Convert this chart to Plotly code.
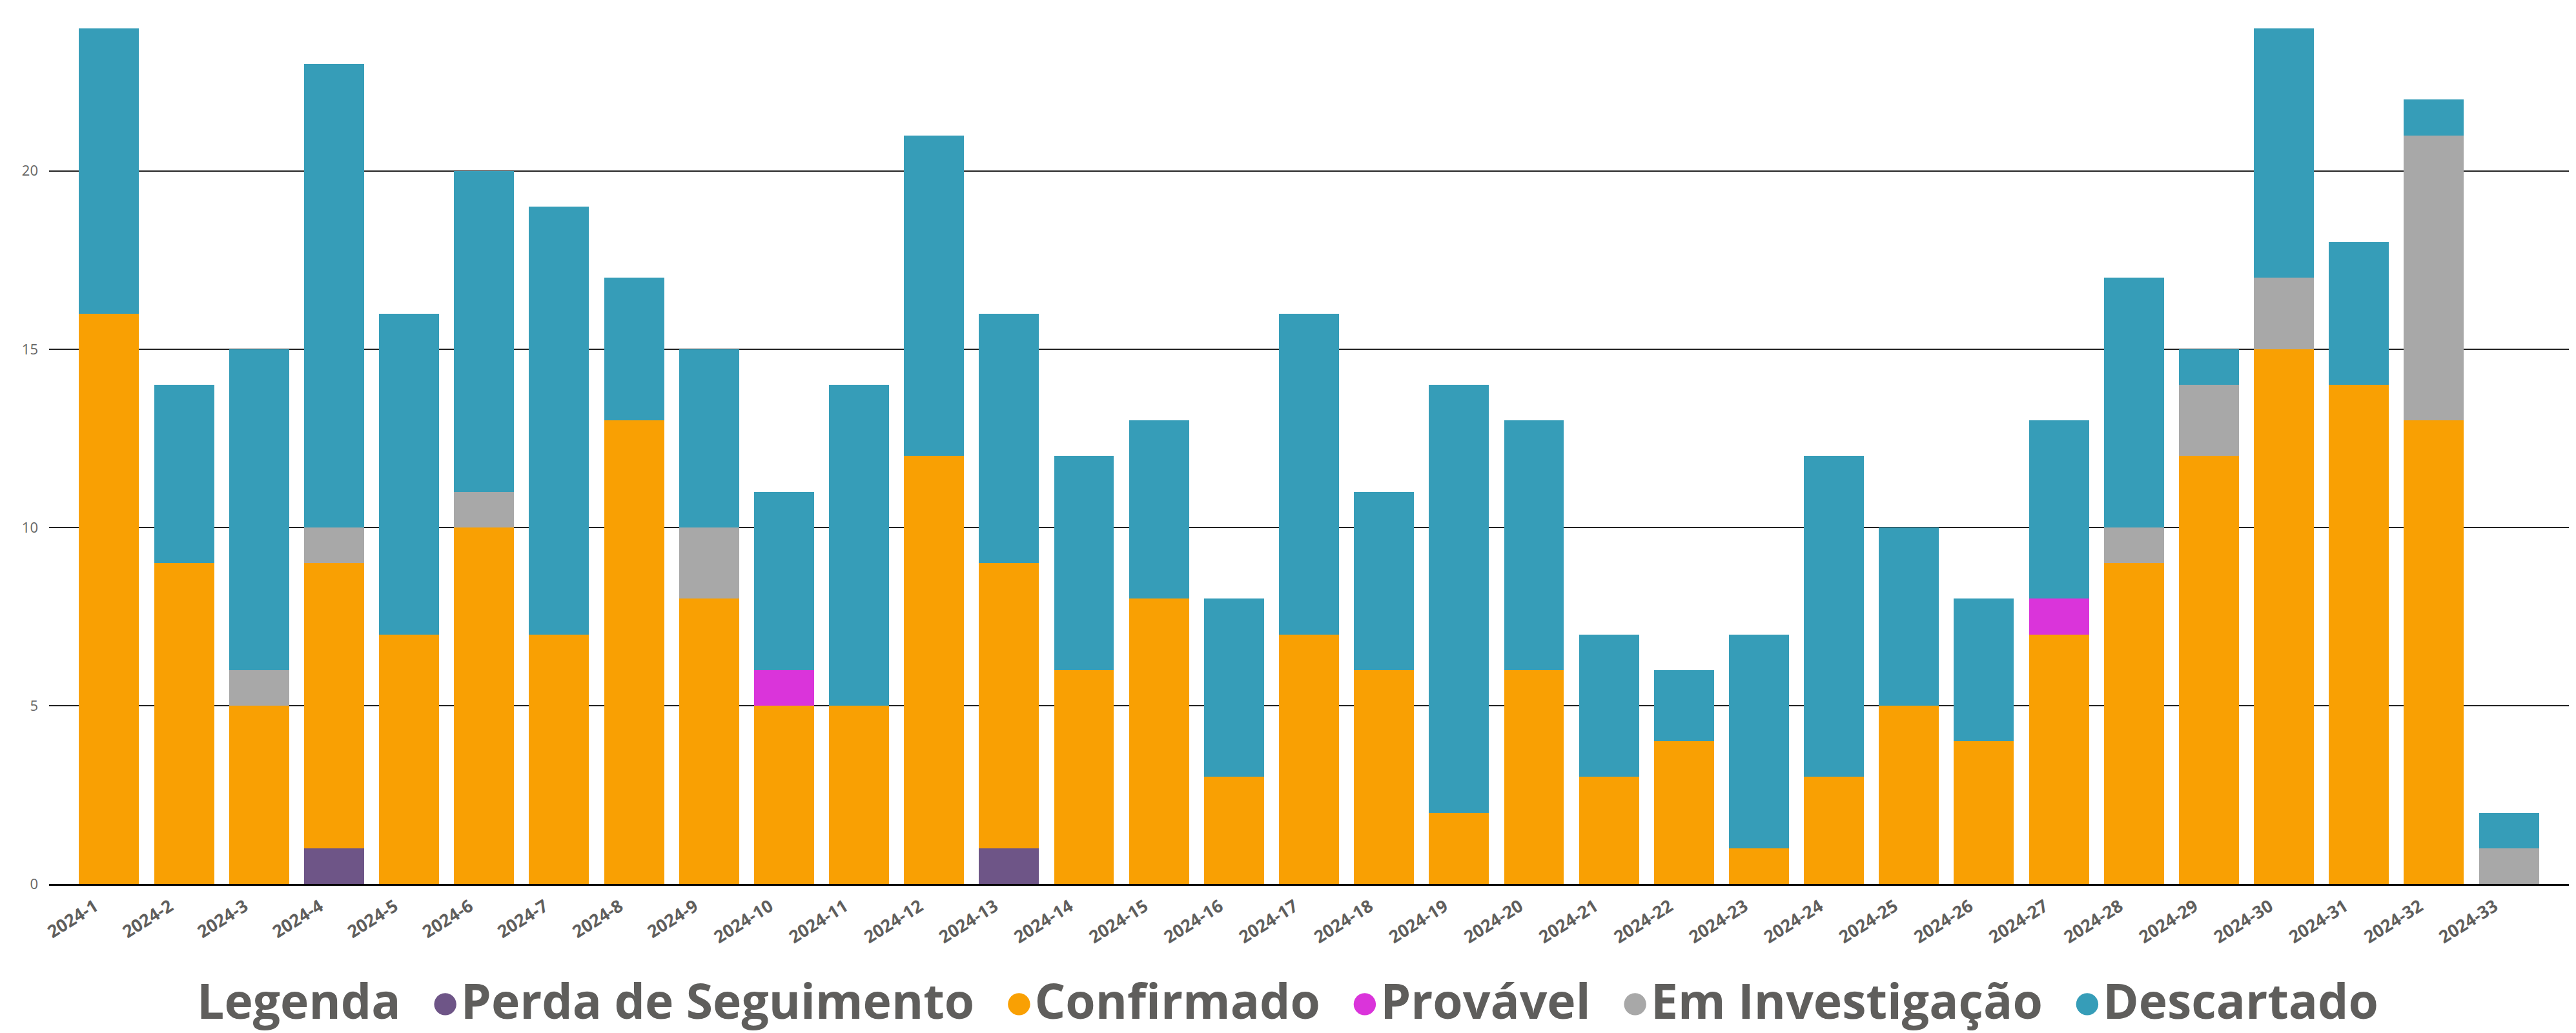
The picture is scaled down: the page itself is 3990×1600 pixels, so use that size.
import plotly.graph_objects as go

categories = [f"2024-{i}" for i in range(1, 34)]

perda = [0, 0, 0, 1, 0, 0, 0, 0, 0, 0, 0, 0, 1, 0, 0, 0, 0, 0, 0, 0, 0, 0, 0, 0, 0, 0, 0, 0, 0, 0, 0, 0, 0]
confirmado = [16, 9, 5, 8, 7, 10, 7, 13, 8, 5, 5, 12, 8, 6, 8, 3, 7, 6, 2, 6, 3, 4, 1, 3, 5, 4, 7, 9, 12, 15, 14, 13, 0]
provavel = [0, 0, 0, 0, 0, 0, 0, 0, 0, 1, 0, 0, 0, 0, 0, 0, 0, 0, 0, 0, 0, 0, 0, 0, 0, 0, 1, 0, 0, 0, 0, 0, 0]
investigacao = [0, 0, 1, 1, 0, 1, 0, 0, 2, 0, 0, 0, 0, 0, 0, 0, 0, 0, 0, 0, 0, 0, 0, 0, 0, 0, 0, 1, 2, 2, 0, 8, 1]
descartado = [8, 5, 9, 13, 9, 9, 12, 4, 5, 5, 9, 9, 7, 6, 5, 5, 9, 5, 12, 7, 4, 2, 6, 9, 5, 4, 5, 7, 1, 7, 4, 1, 1]

series_names = ["Perda de Seguimento", "Confirmado", "Provável", "Em Investigação", "Descartado"]
series_values = [perda, confirmado, provavel, investigacao, descartado]
series_colors = ["#6E5587", "#F9A003", "#DA34DA", "#A8A8A8", "#369DB8"]

legend_title = "Legenda"
y_ticks = [0, 5, 10, 15, 20]

TEXT = "#5F5E5C"
FONT = "Open Sans"

fig = go.Figure()
for name, vals, col in zip(series_names, series_values, series_colors):
    fig.add_trace(go.Bar(
        x=categories, y=vals, name=name, marker=dict(color=col, line=dict(width=0)),
        showlegend=False,
    ))

# legend: title entry + entries with circular markers
fig.add_trace(go.Scatter(
    x=[None], y=[None], mode="markers",
    marker=dict(color="rgba(0,0,0,0)", size=1),
    name=legend_title, showlegend=True, hoverinfo="skip",
))
for name, col in zip(series_names, series_colors):
    fig.add_trace(go.Scatter(
        x=[None], y=[None], mode="markers",
        marker=dict(color="rgba(0,0,0,0)", size=1),
        name=f'<span style="color:{col};font-size:80px">●</span>{name}',
        showlegend=True, hoverinfo="skip",
    ))

fig.update_layout(
    width=3990, height=1600,
    barmode="stack", bargap=0.2,
    paper_bgcolor="white", plot_bgcolor="white",
    margin=dict(l=68, r=19, t=0, b=239, autoexpand=False),
    xaxis=dict(
        type="category", range=[-0.8, 32.8],
        showgrid=False, showline=True, linecolor="black", linewidth=3,
        tickangle=-32, ticks="",
        ticklabelshift=-22, ticklabelstandoff=6,
        tickfont=dict(family=FONT, size=27, color=TEXT, weight=700),
    ),
    yaxis=dict(
        range=[0, 24.65], tickvals=y_ticks,
        showgrid=True, gridcolor="#222222", gridwidth=2,
        zeroline=False, showline=False, ticks="",
        ticklabelstandoff=16,
        tickfont=dict(family=FONT, size=22, color="#666666"),
    ),
    legend=dict(
        orientation="h", xref="container", yref="container",
        x=0.4935, xanchor="center", y=0.037, yanchor="middle",
        font=dict(family=FONT, size=75, color=TEXT, weight=700),
        traceorder="normal",
        itemwidth=30, tracegroupgap=0, bgcolor="rgba(0,0,0,0)",
    ),
    showlegend=True,
)

fig.write_html("out.html")
